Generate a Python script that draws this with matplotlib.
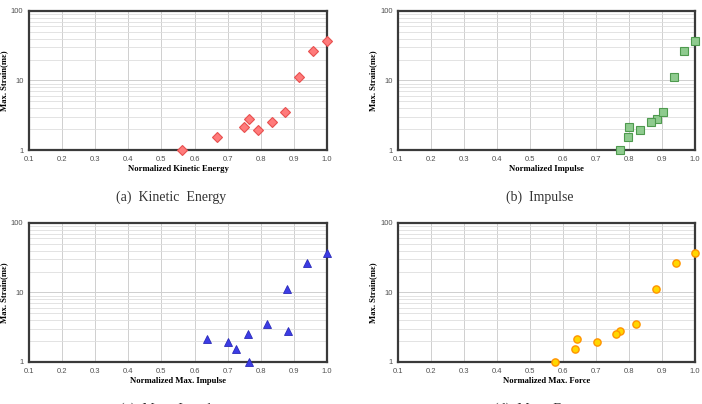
import matplotlib.pyplot as plt
from matplotlib.ticker import FixedLocator, LogLocator, NullFormatter

# max strain values (same 10 tests in every panel)
strain = [1.0, 1.55, 2.17, 2.82, 1.94, 2.56, 3.52, 11.1, 26.9, 37.4]

# normalized x values per panel
kinetic = [0.561, 0.669, 0.748, 0.764, 0.791, 0.833, 0.873, 0.915, 0.957, 0.999]
impulse = [0.773, 0.798, 0.801, 0.886, 0.834, 0.868, 0.902, 0.935, 0.968, 1.0]
max_impulse = [0.765, 0.725, 0.639, 0.882, 0.700, 0.760, 0.819, 0.878, 0.940, 0.999]
max_force = [0.575, 0.636, 0.641, 0.773, 0.702, 0.762, 0.821, 0.881, 0.941, 1.0]

xlabels = ['Normalized Kinetic Energy', 'Normalized Impulse',
           'Normalized Max. Impulse', 'Normalized Max. Force']
captions = ['(a)  Kinetic  Energy', '(b)  Impulse',
            '(c)  Max.  Impulse', '(d)  Max.  Force']
xticks = [0.1, 0.2, 0.3, 0.4, 0.5, 0.6, 0.7, 0.8, 0.9, 1.0]

fig = plt.figure(figsize=(7.02, 4.04), dpi=100)

# panel boxes in figure coords
boxes = [[0.0413, 0.6287, 0.4245, 0.3441],
         [0.5670, 0.6287, 0.4230, 0.3441],
         [0.0413, 0.1040, 0.4245, 0.3441],
         [0.5670, 0.1040, 0.4230, 0.3441]]

styles = [dict(marker='D', ms=4.6, mfc='#ff7b7b', mec='#e8504f', mew=0.8),
          dict(marker='s', ms=5.4, mfc='#8fcb8f', mec='#4e9a4e', mew=0.8),
          dict(marker='^', ms=6.2, mfc='#3c3ce6', mec='#2a2ab8', mew=0.6),
          dict(marker='o', ms=5.2, mfc='#ffd700', mec='#ff9300', mew=1.0)]

xdata = [kinetic, impulse, max_impulse, max_force]

for i in range(4):
    ax = fig.add_axes(boxes[i])
    ax.plot(xdata[i], strain, linestyle='none', clip_on=False, zorder=5, **styles[i])
    ax.set_yscale('log')
    ax.set_xlim(0.1, 1.0)
    ax.set_ylim(1, 100)
    ax.xaxis.set_major_locator(FixedLocator(xticks))
    ax.set_xticklabels(['%.1f' % t for t in xticks])
    ax.yaxis.set_major_locator(FixedLocator([1, 10, 100]))
    ax.set_yticklabels(['1', '10', '100'])
    ax.yaxis.set_minor_locator(LogLocator(base=10, subs=range(2, 10)))
    ax.yaxis.set_minor_formatter(NullFormatter())
    ax.grid(True, which='major', color='#cfcfcf', lw=0.7)
    ax.grid(True, which='minor', axis='y', color='#dedede', lw=0.6)
    ax.tick_params(which='both', length=0, labelsize=5.5, labelcolor='#505050', pad=4)
    for t in ax.get_xticklabels() + ax.get_yticklabels():
        t.set_family('Liberation Sans')
    for s in ax.spines.values():
        s.set_linewidth(1.6)
        s.set_color('#3a3a3a')
    ax.set_xlabel(xlabels[i], fontsize=6.2, fontweight='bold', family='Liberation Serif', labelpad=2)
    ax.set_ylabel('Max. Strain(m\u03b5)', fontsize=6.2, fontweight='bold', family='Liberation Serif', labelpad=2)
    b = boxes[i]
    fig.text(b[0] + b[2] / 2 - 0.01, b[1] - 0.117, captions[i], ha='center', va='center',
             fontsize=10, family='Liberation Serif', color='#333333')

fig.savefig('out.png', dpi=100)
